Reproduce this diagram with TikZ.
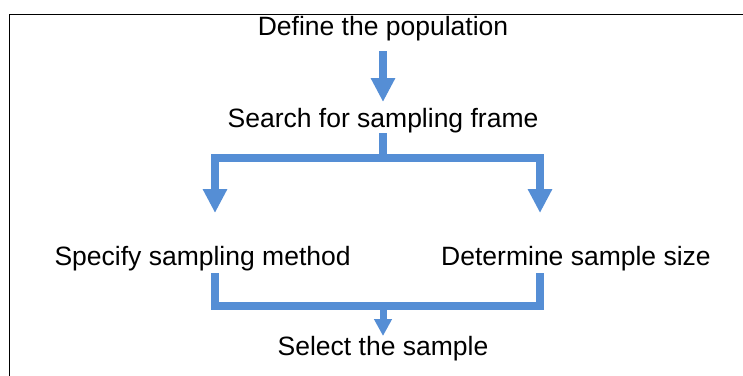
\documentclass[tikz,border=0pt]{standalone}
\usepackage{fontspec}
\setmainfont{Liberation Sans}
\usetikzlibrary{arrows.meta}
\definecolor{flowblue}{RGB}{85,142,213}
\tikzset{
  label/.style={anchor=base,inner sep=0pt,font=\fontsize{26.5}{30}\selectfont},
  bar/.style={draw=flowblue,line width=8pt,line join=miter},
  arr/.style={bar,-{Triangle[width=23pt,length=24pt]}},
  smallarr/.style={draw=flowblue,line width=7pt,-{Triangle[width=17pt,length=17pt]}}
}
\begin{document}
\begin{tikzpicture}[x=1pt,y=-1pt]
  \useasboundingbox (0,0) rectangle (743,375);
  % open frame: left and top edges only
  \draw[black,line width=1pt] (9.5,376) -- (9.5,14.5) -- (744,14.5);

  \node[label] (define)    at (383,35)   {Define the population};
  \node[label] (search)    at (383,127)  {Search for sampling frame};
  \node[label] (specify)   at (202.6,265){Specify sampling method};
  \node[label] (determine) at (576,265)  {Determine sample size};
  \node[label] (select)    at (383,355)  {Select the sample};

  % first step
  \draw[arr] ([yshift=-16pt]define.base) -- ([yshift=25pt]search.base);

  % fork into two branches
  \coordinate (fork) at ([yshift=-31pt]search.base);
  \draw[bar] ([yshift=-6pt]search.base) -- (fork);
  \draw[arr] (fork) -| ([xshift=12.4pt,yshift=52pt]specify.base);
  \draw[arr] (fork) -| ([xshift=-36pt,yshift=52pt]determine.base);

  % branches merge again
  \coordinate (merge) at ([yshift=49.5pt]select.base);
  \draw[bar] ([xshift=12.4pt,yshift=-8pt]specify.base) |- (merge)
             -| ([xshift=-36pt,yshift=-8pt]determine.base);
  \draw[smallarr] (merge) -- ([yshift=19pt]select.base);
\end{tikzpicture}
\end{document}
